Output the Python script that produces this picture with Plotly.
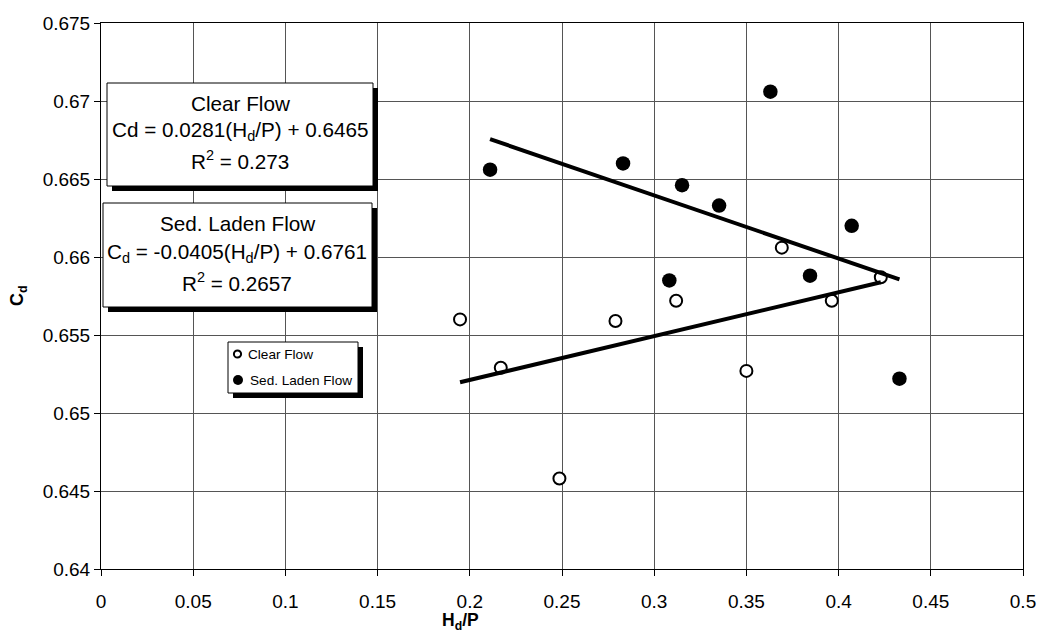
import plotly.graph_objects as go

# ---------------- data ----------------
x_clear = [0.1947, 0.2168, 0.2486, 0.2790, 0.3119, 0.3500, 0.3692, 0.3963, 0.4229]
y_clear = [0.6560, 0.6529, 0.6458, 0.6559, 0.6572, 0.6527, 0.6606, 0.6572, 0.6587]
x_sed = [0.2110, 0.2831, 0.3151, 0.3352, 0.3630, 0.4071, 0.3082, 0.3845, 0.4330]
y_sed = [0.6656, 0.6660, 0.6646, 0.6633, 0.6706, 0.6620, 0.6585, 0.6588, 0.6522]

clear_slope, clear_intercept = 0.0281, 0.6465
sed_slope, sed_intercept = -0.0405, 0.6761

x_ticks = [0, 0.05, 0.1, 0.15, 0.2, 0.25, 0.3, 0.35, 0.4, 0.45, 0.5]
x_tick_labels = ["0", "0.05", "0.1", "0.15", "0.2", "0.25", "0.3", "0.35", "0.4", "0.45", "0.5"]
y_ticks = [0.64, 0.645, 0.65, 0.655, 0.66, 0.665, 0.67, 0.675]
y_tick_labels = ["0.64", "0.645", "0.65", "0.655", "0.66", "0.665", "0.67", "0.675"]

series_names = ["Clear Flow", "Sed. Laden Flow"]
box1_lines = ["Clear Flow", "Cd = 0.0281(H<sub>d</sub>/P) + 0.6465", "R<sup>2</sup> = 0.273"]
box2_lines = ["Sed. Laden Flow", "C<sub>d</sub> = -0.0405(H<sub>d</sub>/P) + 0.6761", "R<sup>2</sup> = 0.2657"]

# ---------------- layout geometry ----------------
W, H = 1042, 634
L, R, T, B = 101, 19, 23, 65
PW, PH = W - L - R, H - T - B
FONT = "Liberation Sans, Arial, sans-serif"


def px(p):
    return (p - L) / PW


def py(p):
    return (H - B - p) / PH


fig = go.Figure()

fig.add_trace(go.Scatter(
    x=x_clear, y=y_clear, mode="markers", name=series_names[0],
    marker=dict(symbol="circle", size=12, color="white", line=dict(color="black", width=2)),
    showlegend=False))
fig.add_trace(go.Scatter(
    x=x_sed, y=y_sed, mode="markers", name=series_names[1],
    marker=dict(symbol="circle", size=14.5, color="black", line=dict(color="black", width=0)),
    showlegend=False))

# trendlines (linear fits from the printed equations, over each series' x-extent)
cx = [min(x_clear), max(x_clear)]
sx = [min(x_sed), max(x_sed)]
fig.add_trace(go.Scatter(x=cx, y=[clear_slope * v + clear_intercept for v in cx], mode="lines",
                         line=dict(color="black", width=4), showlegend=False, hoverinfo="skip"))
fig.add_trace(go.Scatter(x=sx, y=[sed_slope * v + sed_intercept for v in sx], mode="lines",
                         line=dict(color="black", width=4), showlegend=False, hoverinfo="skip"))

shapes = []
annotations = []


def box(x0, y0, x1, y1, sh=5):
    shapes.append(dict(type="rect", xref="paper", yref="paper",
                       x0=px(x0 + sh), x1=px(x1 + sh), y0=py(y1 + sh), y1=py(y0 + sh),
                       fillcolor="black", line=dict(width=0), layer="above"))
    shapes.append(dict(type="rect", xref="paper", yref="paper",
                       x0=px(x0), x1=px(x1), y0=py(y1), y1=py(y0),
                       fillcolor="white", line=dict(color="black", width=1), layer="above"))


def text(txt, x, y, size, anchor="center", angle=0):
    annotations.append(dict(text=txt, x=px(x), y=py(y), xref="paper", yref="paper",
                            showarrow=False, xanchor=anchor, yanchor="middle", textangle=angle,
                            font=dict(family=FONT, size=size, color="black")))


box(107, 83, 373, 186)
box(103, 203, 372, 307)
for txt, yy in zip(box1_lines, [103, 131, 160]):
    text(txt, 240, yy, 20.7)
for txt, yy in zip(box2_lines, [223, 253, 282]):
    text(txt, 237, yy, 20.7)

# legend
box(228, 342, 358, 393)
r_open, r_fill = 3.6, 5.0
shapes.append(dict(type="circle", xref="paper", yref="paper",
                   x0=px(237.5 - r_open), x1=px(237.5 + r_open), y0=py(354 + r_open), y1=py(354 - r_open),
                   fillcolor="white", line=dict(color="black", width=2), layer="above"))
shapes.append(dict(type="circle", xref="paper", yref="paper",
                   x0=px(238 - r_fill), x1=px(238 + r_fill), y0=py(380 + r_fill), y1=py(380 - r_fill),
                   fillcolor="black", line=dict(color="black", width=0), layer="above"))
text(series_names[0], 246, 354, 13.6, anchor="left")
text(series_names[1], 247.5, 380, 13.6, anchor="left")

# axis titles
text("<b>H<sub>d</sub>/P</b>", 460, 621, 17.5)
text("<b>C<sub>d</sub></b>", 18, 296, 18, angle=-90)

axis_common = dict(showline=True, linecolor="black", linewidth=1, mirror=True,
                   ticks="outside", ticklen=6, tickcolor="black", tickwidth=1,
                   showgrid=True, gridcolor="#555555", gridwidth=1, zeroline=False,
                   automargin=False,
                   tickfont=dict(family=FONT, size=19, color="black"))

fig.update_xaxes(range=[0, 0.5], tickvals=x_ticks, ticktext=x_tick_labels,
                 ticklabelstandoff=9, **axis_common)
fig.update_yaxes(range=[0.64, 0.675], tickvals=y_ticks, ticktext=y_tick_labels, **axis_common)

fig.update_layout(
    width=W, height=H, margin=dict(l=L, r=R, t=T, b=B, autoexpand=False),
    paper_bgcolor="white", plot_bgcolor="white",
    font=dict(family=FONT, color="black"),
    showlegend=False,
    shapes=shapes, annotations=annotations,
)

fig.write_html("out.html")
